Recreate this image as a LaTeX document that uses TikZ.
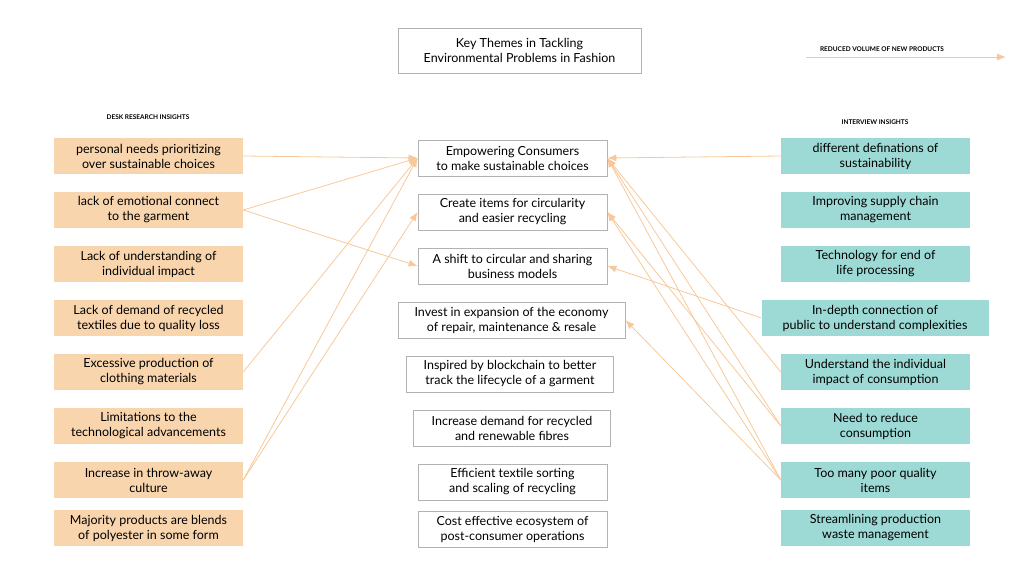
\documentclass[tikz,border=0pt]{standalone}
\usepackage{fontspec}
\setmainfont{Lato}
\usetikzlibrary{arrows.meta}

\definecolor{peach}{HTML}{F9D5AE}
\definecolor{teal}{HTML}{9DDAD5}
\definecolor{link}{HTML}{F8C89A}

\tikzset{
  desk/.style={fill=peach, minimum width=189pt, minimum height=36pt, align=center, font=\fontsize{12.5}{15}\selectfont},
  talk/.style={desk, fill=teal},
  theme/.style={draw=gray!60, thick, minimum width=189pt, minimum height=36pt, align=center, inner sep=2pt, font=\fontsize{12.5}{15}\selectfont},
  link/.style={draw=link, thick, -{Latex[length=9pt,width=7pt]}},
  head/.style={font=\fontsize{6.5}{8}\selectfont\bfseries}
}

\begin{document}
\begin{tikzpicture}[x=1pt,y=-1pt]
  \useasboundingbox (0,0) rectangle (1024,576);
  % title and legend
  \node[theme, minimum width=243pt, minimum height=45pt] (title) at (519.5,50.5) {Key Themes in Tackling\\Environmental Problems in Fashion};
  \node[head] (legend) at (882,49) {REDUCED VOLUME OF NEW PRODUCTS};
  \coordinate (l0) at (806,57);
  \coordinate (l1) at (1006,57);
  \draw[link] (l0) -- (l1);
  \node[head] (deskhead) at (148,117) {DESK RESEARCH INSIGHTS};
  \node[head] (talkhead) at (875,122) {INTERVIEW INSIGHTS};

  % desk research insights
  \node[desk] (d1) at (148.5,156) {personal needs prioritizing\\over sustainable choices};
  \node[desk] (d2) at (148.5,210) {lack of emotional connect\\to the garment};
  \node[desk] (d3) at (148.5,264) {Lack of understanding of\\individual impact};
  \node[desk] (d4) at (148.5,318) {Lack of demand of recycled\\textiles due to quality loss};
  \node[desk] (d5) at (148.5,372) {Excessive production of\\clothing materials};
  \node[desk] (d6) at (148.5,426) {Limitations to the\\technological advancements};
  \node[desk] (d7) at (148.5,480) {Increase in throw-away\\culture};
  \node[desk] (d8) at (148.5,528) {Majority products are blends\\of polyester in some form};

  % themes
  \node[theme] (t1) at (512.5,158) {Empowering Consumers\\to make sustainable choices};
  \node[theme] (t2) at (512.5,212) {Create items for circularity\\and easier recycling};
  \node[theme] (t3) at (512.5,266) {A shift to circular and sharing\\business models};
  \node[theme, minimum width=227pt] (t4) at (511.5,320) {Invest in expansion of the economy\\of repair, maintenance \& resale};
  \node[theme, minimum width=207pt] (t5) at (510,374) {Inspired by blockchain to better\\track the lifecycle of a garment};
  \node[theme, minimum width=197pt] (t6) at (512,428) {Increase demand for recycled\\and renewable fibres};
  \node[theme] (t7) at (512.5,482) {Efficient textile sorting\\and scaling of recycling};
  \node[theme] (t8) at (512.5,529) {Cost effective ecosystem of\\post-consumer operations};

  % interview insights
  \node[talk] (r1) at (875.5,156) {different definations of\\sustainability};
  \node[talk] (r2) at (875.5,210) {Improving supply chain\\management};
  \node[talk] (r3) at (875.5,264) {Technology for end of\\life processing};
  \node[talk, minimum width=227pt] (r4) at (875,318) {In-depth connection of\\public to understand complexities};
  \node[talk] (r5) at (875.5,372) {Understand the individual\\impact of consumption};
  \node[talk] (r6) at (875.5,426) {Need to reduce\\consumption};
  \node[talk] (r7) at (875.5,480) {Too many poor quality\\items};
  \node[talk] (r8) at (875.5,528) {Streamlining production\\waste management};

  % links
  \draw[link] (d1.east) -- (t1.west);
  \draw[link] (d2.east) -- (t1.west);
  \draw[link] (d2.east) -- (t3.west);
  \draw[link] (d5.east) -- (t1.west);
  \draw[link] (d7.east) -- (t1.west);
  \draw[link] (d7.east) -- (t2.west);
  \draw[link] (r1.west) -- (t1.east);
  \draw[link] (r4.west) -- (t3.east);
  \draw[link] (r5.west) -- (t1.east);
  \draw[link] (r6.west) -- (t1.east);
  \draw[link] (r6.west) -- (t2.east);
  \draw[link] (r7.west) -- (t1.east);
  \draw[link] (r7.west) -- (t2.east);
  \draw[link] (r7.west) -- (t4.east);
\end{tikzpicture}
\end{document}
